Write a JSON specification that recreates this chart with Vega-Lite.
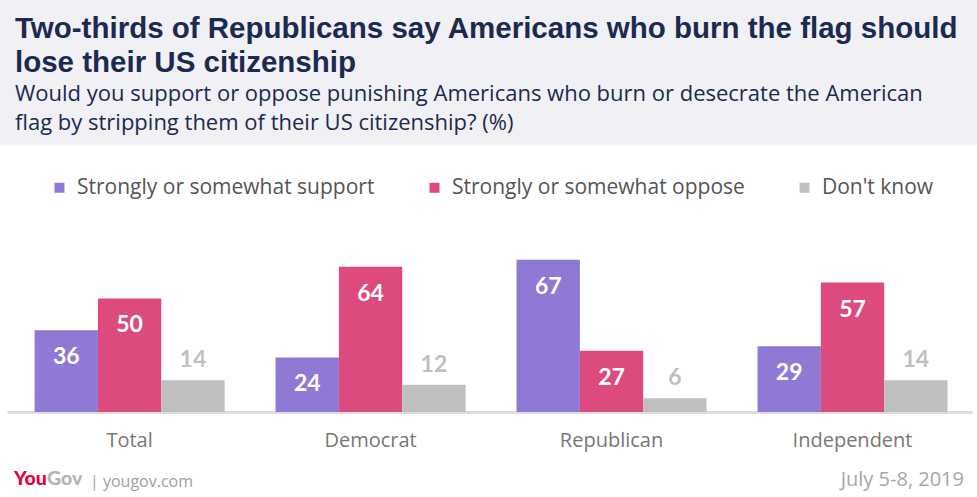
{
  "$schema": "https://vega.github.io/schema/vega-lite/v6.json",
  "padding": 0,
  "background": "white",
  "config": {"view": {"stroke": null}, "font": "Open Sans"},
  "spacing": 32,
  "vconcat": [
    {
      "width": 977,
      "height": 145,
      "view": {"fill": "#f0f0f5", "stroke": null},
      "data": {"values": [{}]},
      "mark": {"type": "text", "text": ""},
      "title": {
        "text": ["Two-thirds of Republicans say Americans who burn the flag should", "lose their US citizenship"],
        "subtitle": ["Would you support or oppose punishing Americans who burn or desecrate the American", "flag by stripping them of their US citizenship? (%)"],
        "orient": "top",
        "anchor": "start",
        "frame": "group",
        "offset": -135,
        "dx": 15,
        "font": "Liberation Sans",
        "fontSize": 29.5,
        "fontWeight": "bold",
        "color": "#1b2b4f",
        "lineHeight": 34,
        "subtitleFont": "Open Sans",
        "subtitleFontSize": 22,
        "subtitleFontWeight": "normal",
        "subtitleColor": "#1b2b4f",
        "subtitleLineHeight": 29,
        "subtitlePadding": 6
      }
    },
    {
      "spacing": 19,
      "center": true,
      "vconcat": [
        {
          "width": 965,
          "height": 159,
          "data": {"values": [
            {"group": "Total", "resp": "Strongly or somewhat support", "value": 36},
            {"group": "Total", "resp": "Strongly or somewhat oppose", "value": 50},
            {"group": "Total", "resp": "Don't know", "value": 14},
            {"group": "Democrat", "resp": "Strongly or somewhat support", "value": 24},
            {"group": "Democrat", "resp": "Strongly or somewhat oppose", "value": 64},
            {"group": "Democrat", "resp": "Don't know", "value": 12},
            {"group": "Republican", "resp": "Strongly or somewhat support", "value": 67},
            {"group": "Republican", "resp": "Strongly or somewhat oppose", "value": 27},
            {"group": "Republican", "resp": "Don't know", "value": 6},
            {"group": "Independent", "resp": "Strongly or somewhat support", "value": 29},
            {"group": "Independent", "resp": "Strongly or somewhat oppose", "value": 57},
            {"group": "Independent", "resp": "Don't know", "value": 14}
          ]},
          "encoding": {
            "x": {
              "field": "group", "type": "nominal",
              "sort": ["Total", "Democrat", "Republican", "Independent"],
              "scale": {"paddingInner": 0.2116, "paddingOuter": 0.108, "align": 0.53},
              "axis": {
                "title": null, "labelAngle": 0, "ticks": false,
                "domainColor": "#dddddd", "domainWidth": 3,
                "labelFont": "Open Sans", "labelFontSize": 20, "labelColor": "#777777",
                "labelPadding": 18, "labelBaseline": "top"
              }
            },
            "xOffset": {
              "field": "resp", "type": "nominal",
              "sort": ["Strongly or somewhat support", "Strongly or somewhat oppose", "Don't know"],
              "scale": {"paddingInner": 0, "paddingOuter": 0}
            },
            "y": {"field": "value", "type": "quantitative", "scale": {"domain": [0, 70]}, "axis": null}
          },
          "layer": [
            {
              "mark": {"type": "bar"},
              "encoding": {
                "color": {
                  "field": "resp", "type": "nominal",
                  "sort": ["Strongly or somewhat support", "Strongly or somewhat oppose", "Don't know"],
                  "scale": {
                    "domain": ["Strongly or somewhat support", "Strongly or somewhat oppose", "Don't know"],
                    "range": ["#9078d5", "#dc4a7e", "#bfbfbf"]
                  },
                  "legend": {
                    "title": null,
                    "orient": "none",
                    "direction": "horizontal",
                    "legendX": 49,
                    "legendY": -76,
                    "symbolType": "square",
                    "symbolSize": 100,
                    "symbolStrokeWidth": 0,
                    "labelFont": "Open Sans",
                    "labelFontSize": 21,
                    "labelColor": "#555555",
                    "labelOffset": 7,
                    "columnPadding": 49,
                    "labelLimit": 400
                  }
                }
              }
            },
            {
              "transform": [{"filter": "datum.resp != \"Don't know\""}],
              "mark": {"type": "text", "dy": 27, "color": "white", "fontWeight": "bold", "fontSize": 23, "font": "Lato"},
              "encoding": {"text": {"field": "value", "type": "quantitative"}}
            },
            {
              "transform": [{"filter": "datum.resp == \"Don't know\""}],
              "mark": {"type": "text", "dy": -20, "color": "#bfbfbf", "fontWeight": "bold", "fontSize": 23, "font": "Lato"},
              "encoding": {"text": {"field": "value", "type": "quantitative"}}
            }
          ]
        },
        {
          "spacing": 0,
          "hconcat": [
            {
              "width": 45, "height": 1,
              "data": {"values": [{}]},
              "mark": {"type": "text", "text": ""},
              "title": {"text": "You", "anchor": "start", "dx": 14, "offset": 0, "font": "Lato", "fontSize": 19.5, "fontWeight": 900, "color": "#e4003b"}
            },
            {
              "width": 38, "height": 1,
              "data": {"values": [{}]},
              "mark": {"type": "text", "text": ""},
              "title": {"text": "Gov", "anchor": "start", "dx": 0, "offset": 0, "font": "Lato", "fontSize": 19.5, "fontWeight": 900, "color": "#b4b4ae"}
            },
            {
              "width": 120, "height": 1,
              "data": {"values": [{}]},
              "mark": {"type": "text", "text": ""},
              "title": {"text": "| yougov.com", "anchor": "start", "dx": 5, "offset": 0, "font": "Open Sans", "fontSize": 16, "fontWeight": "normal", "color": "#a0a0a0"}
            },
            {
              "width": 774, "height": 1,
              "data": {"values": [{}]},
              "mark": {"type": "text", "text": ""},
              "title": {"text": "July 5-8, 2019", "anchor": "end", "dx": -15, "offset": 0, "font": "Open Sans", "fontSize": 20, "fontWeight": "normal", "color": "#a6a6a6"}
            }
          ]
        }
      ]
    }
  ],
  "resolve": {"legend": {"color": "independent"}}
}
